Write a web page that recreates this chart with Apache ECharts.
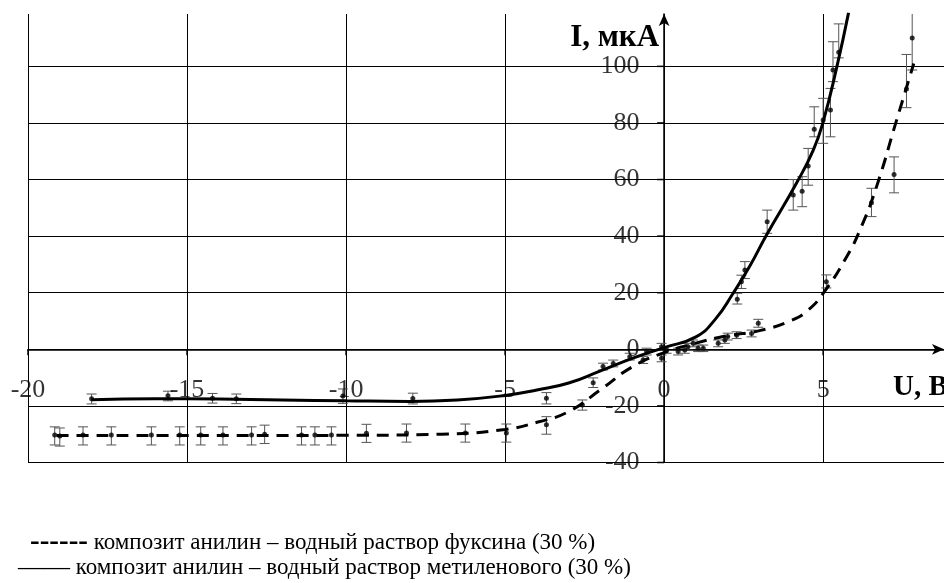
<!DOCTYPE html>
<html><head><meta charset="utf-8">
<script src="https://cdn.jsdelivr.net/npm/echarts@6/dist/echarts.min.js"></script>
<style>html,body{margin:0;padding:0;background:#fff}#c{width:944px;height:583px}</style>
</head><body><div id="c"></div><script>
// ---- data ----
const xName = 'U, В';
const yName = 'I, мкА';
const legendFuchsin = 'композит анилин – водный раствор фуксина (30 %)';
const legendMethylene = 'композит анилин – водный раствор метиленового (30 %)';
const xTickValues = [-20, -15, -10, -5, 0, 5];
const yTickValues = [-40, -20, 0, 20, 40, 60, 80, 100];

// fitted curves [U, I]
const methyleneFit = [[-18,-17.8],[-16,-17.5],[-14,-17.6],[-12,-17.9],[-10,-18.2],[-8,-18.4],[-6.5,-17.9],[-5,-16.3],[-4,-14.4],[-3,-11.9],[-2,-7.6],[-1,-3.2],[0,0.6],[1,4.4],[1.6,10.5],[2.17,19.8],[2.7,29.5],[3.22,40.4],[4.16,58.7],[4.69,70.4],[5.0,80.4],[5.42,99.3],[5.8,119]];
const fuchsinFit = [[-19.1,-30.5],[-15,-30.5],[-10,-30.4],[-7,-30],[-5,-28.3],[-4,-25.8],[-3,-22],[-2,-14.3],[-1,-6.2],[0,-1.2],[1,2.2],[2,4.8],[3,6.6],[4,10.2],[4.5,13.6],[5.0,19.8],[5.74,32.7],[6.2,43.3],[6.68,57.5],[7.31,81],[7.85,101]];

// measured points [U, I]
const methylenePoints = [[-18.0,-17.5],[-15.6,-16.4],[-14.2,-17.3],[-13.45,-17.5],[-10.1,-16.5],[-7.9,-17.4],[-3.7,-17.3],[-2.23,-11.8],[-1.92,-6.1],[-1.6,-5.0],[-1.08,-2.6],[-0.55,-0.8],[-0.08,0.9],[0.75,0.9],[0.91,2.1],[1.07,0.35],[2.3,17.7],[2.43,23.9],[2.54,28],[3.24,45.1],[4.06,54.5],[4.34,55.9],[4.53,64.8],[4.72,77.8],[5.0,81],[5.23,84.6],[5.31,98.7],[5.49,105]];
const fuchsinPoints = [[-19.16,-30.3],[-19.0,-30.6],[-18.27,-30.3],[-17.38,-30.3],[-16.12,-30.3],[-15.23,-30.3],[-14.57,-30.3],[-13.87,-30.3],[-12.97,-30.3],[-12.56,-30],[-11.4,-30.3],[-10.98,-30.3],[-10.46,-30.3],[-9.36,-29.7],[-8.1,-29.6],[-6.25,-29.6],[-4.96,-29.6],[-3.7,-26.7],[-2.57,-19.7],[-0.66,-3.8],[-0.08,-3.2],[0.08,-0.2],[0.44,-0.8],[0.65,-0.2],[1.23,0.35],[1.7,2.1],[1.91,3.3],[2.0,4.5],[2.28,5.0],[2.75,5.6],[2.96,9.2],[5.1,23.9],[6.52,51.8],[7.23,61.8],[7.62,92],[7.8,110]];

// error bars [U, low, high]
const methyleneErr = [[-18.0,-19.3,-15.8],[-15.6,-18.2,-14.8],[-14.2,-19.0,-15.6],[-13.45,-19.2,-15.8],[-10.1,-19.1,-14.0],[-7.9,-19.3,-15.5],[-3.7,-19.3,-15.3],[-2.23,-13.5,-10.1],[-1.92,-7.3,-4.9],[-1.6,-6.2,-3.8],[-1.08,-3.8,-1.4],[-0.55,-2.0,0.4],[-0.08,-0.3,2.1],[0.75,-0.3,2.1],[0.91,0.9,3.3],[1.07,-0.8,1.5],[2.3,16.0,19.8],[2.43,21.5,26.2],[2.54,25.0,31.0],[3.24,41.0,49.2],[4.06,49.2,60.0],[4.34,50.4,61.0],[4.53,58.0,71.0],[4.72,75.1,85.7],[5.0,72.8,88.7],[5.23,75.1,92.2],[5.31,94.6,108.7],[5.49,103.0,115.0]];
const fuchsinErr = [[-19.16,-33.8,-27.4],[-19.0,-34.2,-27.8],[-18.27,-33.8,-27.4],[-17.38,-33.8,-27.4],[-16.12,-33.8,-27.4],[-15.23,-33.8,-27.4],[-14.57,-33.8,-27.4],[-13.87,-33.8,-27.4],[-12.97,-33.8,-27.4],[-12.56,-33.3,-26.8],[-11.4,-33.8,-27.4],[-10.98,-33.8,-27.4],[-10.46,-33.8,-27.4],[-9.36,-32.9,-26.5],[-8.1,-32.8,-26.4],[-6.25,-32.8,-26.4],[-4.96,-32.8,-26.4],[-3.7,-30.0,-23.8],[-2.57,-21.5,-17.9],[-0.66,-5.0,-2.6],[-0.08,-4.4,-2.0],[0.08,-1.4,1.0],[0.44,-2.0,0.4],[0.65,-1.4,1.0],[1.23,-0.8,1.5],[1.7,0.9,3.3],[1.91,2.1,4.5],[2.0,3.3,5.7],[2.28,3.8,6.2],[2.75,4.4,6.8],[2.96,7.8,10.6],[5.1,21.7,26.3],[6.52,46.9,56.9],[7.23,55.3,68.0],[7.62,85.4,104.2],[7.8,98.7,125]];

const FONT = 'Liberation Serif';

function errRender(params, api) {
  const x = api.value(0), lo = api.value(1), hi = api.value(2);
  const a = api.coord([x, lo]), b = api.coord([x, hi]);
  const w = 5;
  const st = { stroke: '#555', lineWidth: 1, fill: null };
  return { type: 'group', children: [
    { type: 'line', shape: { x1: a[0], y1: a[1], x2: b[0], y2: b[1] }, style: st },
    { type: 'line', shape: { x1: a[0]-w, y1: a[1], x2: a[0]+w, y2: a[1] }, style: st },
    { type: 'line', shape: { x1: b[0]-w, y1: b[1], x2: b[0]+w, y2: b[1] }, style: st }
  ]};
}
// small axis ticks drawn at the axis lines (which sit on zero)
function tickRender(dx, dy) {
  return function (params, api) {
    const p = api.coord([api.value(0), api.value(1)]);
    return { type: 'line', shape: { x1: p[0], y1: p[1], x2: p[0] + dx, y2: p[1] + dy },
      style: { stroke: '#000', lineWidth: 1.5 } };
  };
}
const tickLabel = { fontFamily: FONT, fontSize: 26, color: '#000' };

const chart = echarts.init(document.getElementById('c'), null, { renderer: 'canvas' });
chart.setOption({
  animation: false,
  backgroundColor: '#fff',
  textStyle: { fontFamily: FONT },
  grid: { left: 28, right: 0, top: 14, bottom: 120.5, containLabel: false, outerBoundsMode: 'none' },
  xAxis: {
    type: 'value', min: -20, max: 8.8, interval: 5,
    name: xName, nameLocation: 'end', nameGap: -51,
    nameTextStyle: { fontFamily: FONT, fontWeight: 'bold', fontSize: 29, color: '#000', align: 'left', verticalAlign: 'top', padding: [24, 0, 0, 0] },
    axisLine: { show: true, onZero: true, lineStyle: { color: '#000', width: 1.5 }, symbol: ['none', 'arrow'], symbolSize: [8, 12] },
    axisTick: { show: false },
    axisLabel: { show: false },
    splitLine: { show: true, showMaxLine: false, lineStyle: { color: '#000', width: 1 } }
  },
  yAxis: {
    type: 'value', min: -40, max: 118.5, interval: 20,
    name: yName, nameLocation: 'end', nameGap: -24,
    nameTextStyle: { fontFamily: FONT, fontWeight: 'bold', fontSize: 31, color: '#000', align: 'right', verticalAlign: 'middle', padding: [0, 5, 0, 0] },
    axisLine: { show: true, onZero: true, lineStyle: { color: '#000', width: 1.5 }, symbol: ['none', 'arrow'], symbolSize: [8, 12] },
    axisTick: { show: false },
    axisLabel: { show: false },
    splitLine: { show: true, showMaxLine: false, lineStyle: { color: '#000', width: 1 } }
  },
  series: [
    { name: legendMethylene, type: 'line', data: methyleneFit, smooth: 0.5, showSymbol: false, clip: true,
      lineStyle: { color: '#000', width: 3 }, z: 3 },
    { name: legendFuchsin, type: 'line', data: fuchsinFit, smooth: 0.5, showSymbol: false, clip: true,
      lineStyle: { color: '#000', width: 3, type: [12, 8] }, z: 3 },
    { type: 'custom', renderItem: errRender, data: methyleneErr, encode: { x: 0, y: [1, 2] }, clip: true, z: 2 },
    { type: 'custom', renderItem: errRender, data: fuchsinErr, encode: { x: 0, y: [1, 2] }, clip: true, z: 2 },
    { type: 'scatter', data: methylenePoints, symbol: 'circle', symbolSize: 5, itemStyle: { color: '#000' }, z: 4 },
    { type: 'scatter', data: fuchsinPoints, symbol: 'circle', symbolSize: 5, itemStyle: { color: '#000' }, z: 4 },
    // axis ticks on the zero lines
    { type: 'custom', renderItem: tickRender(0, 6), data: xTickValues.map(v => [v, 0]), encode: { x: 0, y: 1 }, clip: false, silent: true, z: 5 },
    { type: 'custom', renderItem: tickRender(-7, 0), data: yTickValues.map(v => [0, v]), encode: { x: 0, y: 1 }, clip: false, silent: true, z: 5 },
    // tick labels placed next to the zero lines
    { type: 'scatter', data: xTickValues.map(v => [v, 0]), symbolSize: 1, clip: false, silent: true, z: 6,
      itemStyle: { color: 'rgba(0,0,0,0)' },
      label: Object.assign({ show: true, position: 'bottom', distance: 27, formatter: p => String(p.value[0]) }, tickLabel) },
    { type: 'scatter', data: yTickValues.map(v => [0, v]), symbolSize: 1, clip: false, silent: true, z: 6,
      itemStyle: { color: 'rgba(0,0,0,0)' },
      label: Object.assign({ show: true, position: 'left', distance: 24, formatter: p => String(p.value[1]) }, tickLabel) }
  ],
  graphic: [
    { type: 'text', left: 30, top: 528, style: {
      text: '{b|------} ' + legendFuchsin, font: '23px "' + FONT + '"', fill: '#000',
      rich: { b: { fontFamily: FONT, fontSize: 29, fontWeight: 'bold', fill: '#000' } } } },
    { type: 'text', left: 18, top: 555, style: {
      text: '{d|——} ' + legendMethylene, font: '23px "' + FONT + '"', fill: '#000',
      rich: { d: { fontFamily: FONT, fontSize: 26, fill: '#000' } } } }
  ]
});
</script></body></html>
